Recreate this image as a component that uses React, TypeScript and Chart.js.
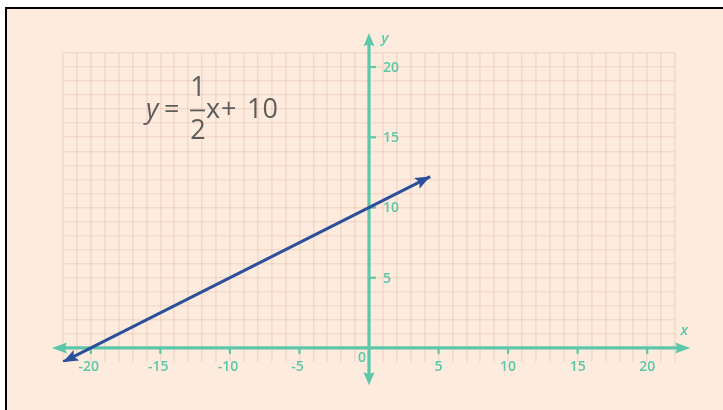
import React, { useEffect, useRef } from "react";
import { Chart, registerables } from "chart.js";

Chart.register(...registerables);

// ---- data ----
const lineX = [-22, 4.4];
const lineY = [-1, 12.2];
const xTickValues = [-20, -15, -10, -5, 5, 10, 15, 20];
const yTickValues = [5, 10, 15, 20];
const xAxisRange = [-22.8, 23.1];
const yAxisRange = [-2.65, 22.4];
const gridX = [-22, 22];
const gridY = [-1, 21];
const equationParts = ["y", "=", "1", "2", "x", "+", "10"];

const TEAL = "#5cc7aa";
const BLUE = "#2c4f9c";
const BG = "#fdebdd";
const GRID = "rgba(224,178,158,0.30)";
const EQ = "#5d5d5d";

function arrowHead(ctx: CanvasRenderingContext2D, tipX: number, tipY: number, ang: number, len: number, half: number, notch: number, color: string) {
  ctx.save();
  ctx.translate(tipX, tipY);
  ctx.rotate(ang);
  ctx.beginPath();
  ctx.moveTo(0, 0);
  ctx.lineTo(-len, -half);
  ctx.lineTo(-len + notch, 0);
  ctx.lineTo(-len, half);
  ctx.closePath();
  ctx.fillStyle = color;
  ctx.fill();
  ctx.restore();
}

const axesPlugin = {
  id: "axesPlugin",
  beforeDatasetsDraw(chart: any) {
    const { ctx, scales } = chart;
    const xs = scales.x, ys = scales.y;
    const x0 = xs.getPixelForValue(0);
    const y0 = ys.getPixelForValue(0);
    ctx.save();
    ctx.strokeStyle = TEAL;
    ctx.lineWidth = 3.2;
    // x axis
    const xl = xs.getPixelForValue(xAxisRange[0]);
    const xr = xs.getPixelForValue(xAxisRange[1]);
    ctx.beginPath();
    ctx.moveTo(xl + 8, y0);
    ctx.lineTo(xr - 8, y0);
    ctx.stroke();
    // y axis
    const yt = ys.getPixelForValue(yAxisRange[1]);
    const yb = ys.getPixelForValue(yAxisRange[0]);
    ctx.beginPath();
    ctx.moveTo(x0, yt + 8);
    ctx.lineTo(x0, yb - 8);
    ctx.stroke();
    arrowHead(ctx, xr, y0, 0, 15, 5.5, 2, TEAL);
    arrowHead(ctx, xl, y0, Math.PI, 15, 5.5, 2, TEAL);
    arrowHead(ctx, x0, yt, -Math.PI / 2, 13, 5.5, 2, TEAL);
    arrowHead(ctx, x0, yb, Math.PI / 2, 13, 5.5, 2, TEAL);
    // tick marks
    ctx.lineWidth = 2.2;
    xTickValues.forEach((v) => {
      const px = xs.getPixelForValue(v);
      ctx.beginPath();
      ctx.moveTo(px, y0);
      ctx.lineTo(px, y0 + 6);
      ctx.stroke();
    });
    yTickValues.forEach((v) => {
      const py = ys.getPixelForValue(v);
      ctx.beginPath();
      ctx.moveTo(x0, py);
      ctx.lineTo(x0 + 7, py);
      ctx.stroke();
    });
    ctx.restore();
  },
  afterDatasetsDraw(chart: any) {
    const { ctx, scales } = chart;
    const xs = scales.x, ys = scales.y;
    const x0 = xs.getPixelForValue(0);
    const y0 = ys.getPixelForValue(0);
    // line arrowheads
    const ax = xs.getPixelForValue(lineX[0]);
    const ay = ys.getPixelForValue(lineY[0]);
    const bx = xs.getPixelForValue(lineX[1]);
    const by = ys.getPixelForValue(lineY[1]);
    const ang = Math.atan2(by - ay, bx - ax);
    arrowHead(ctx, bx, by, ang, 15, 6, 3, BLUE);
    arrowHead(ctx, ax, ay, ang + Math.PI, 15, 6, 3, BLUE);

    ctx.save();
    // tick labels
    ctx.fillStyle = TEAL;
    ctx.font = "600 14px 'Open Sans', sans-serif";
    ctx.textAlign = "center";
    ctx.textBaseline = "middle";
    xTickValues.forEach((v) => {
      ctx.fillText(v < 0 ? "-" + Math.abs(v) : String(v), xs.getPixelForValue(v) - (v < 0 ? 2 : 0), y0 + 19);
    });
    ctx.fillText("0", x0 - 7, y0 + 10);
    ctx.textAlign = "left";
    yTickValues.forEach((v) => {
      ctx.fillText(String(v), x0 + 14, ys.getPixelForValue(v) + 1);
    });
    // axis titles
    ctx.font = "italic 600 15px 'Open Sans', sans-serif";
    ctx.textAlign = "center";
    ctx.fillText("y", x0 + 16, ys.getPixelForValue(yAxisRange[1]) + 5);
    ctx.fillText("x", xs.getPixelForValue(xAxisRange[1]) - 6, y0 - 17);

    // equation
    ctx.fillStyle = EQ;
    ctx.textBaseline = "alphabetic";
    ctx.textAlign = "left";
    ctx.font = "italic 400 27px 'Open Sans', sans-serif";
    ctx.fillText(equationParts[0], 146, 118);
    ctx.font = "400 27px 'Open Sans', sans-serif";
    ctx.fillText(equationParts[1], 164, 118);
    ctx.textAlign = "center";
    ctx.fillText(equationParts[2], 198, 96);
    ctx.fillText(equationParts[3], 198, 139);
    ctx.fillRect(190, 109.5, 15, 1.8);
    ctx.textAlign = "left";
    ctx.fillText(equationParts[4], 206, 118);
    ctx.fillText(equationParts[5], 221, 118);
    ctx.fillText(equationParts[6], 247, 118);
    ctx.restore();
  },
};

export default function App() {
  const ref = useRef<HTMLCanvasElement>(null);
  useEffect(() => {
    const chart = new Chart(ref.current as HTMLCanvasElement, {
      type: "scatter",
      data: {
        datasets: [
          {
            data: lineX.map((x, i) => ({ x, y: lineY[i] })),
            showLine: true,
            borderColor: BLUE,
            borderWidth: 3,
            pointRadius: 0,
            borderCapStyle: "butt",
          },
        ],
      },
      options: {
        animation: false,
        responsive: false,
        events: [],
        layout: { padding: { left: 63, right: 48, top: 53, bottom: 48 } },
        plugins: { legend: { display: false }, tooltip: { enabled: false } },
        scales: {
          x: {
            type: "linear",
            min: gridX[0],
            max: gridX[1],
            ticks: { display: false, stepSize: 1 },
            border: { display: false },
            grid: { color: GRID, lineWidth: 1.6, drawTicks: false },
          },
          y: {
            type: "linear",
            min: gridY[0],
            max: gridY[1],
            ticks: { display: false, stepSize: 1 },
            border: { display: false },
            grid: {
              color: (c: any) => (c.tick && c.tick.value === gridY[0] ? "rgba(0,0,0,0)" : GRID),
              lineWidth: 1.6,
              drawTicks: false,
            },
          },
        },
      },
      plugins: [axesPlugin],
    } as any);
    return () => chart.destroy();
  }, []);
  return (
    <div style={{ position: "fixed", left: 0, top: 0, width: 723, height: 410, background: "#ffffff", overflow: "hidden" }}>
      <div
        style={{
          position: "absolute",
          left: 5,
          top: 7,
          width: 723,
          height: 410,
          background: BG,
          borderLeft: "2.5px solid #000",
          borderTop: "2.5px solid #000",
        }}
      />
      <canvas ref={ref} width={723} height={410} style={{ position: "absolute", left: 0, top: 0 }} />
    </div>
  );
}
